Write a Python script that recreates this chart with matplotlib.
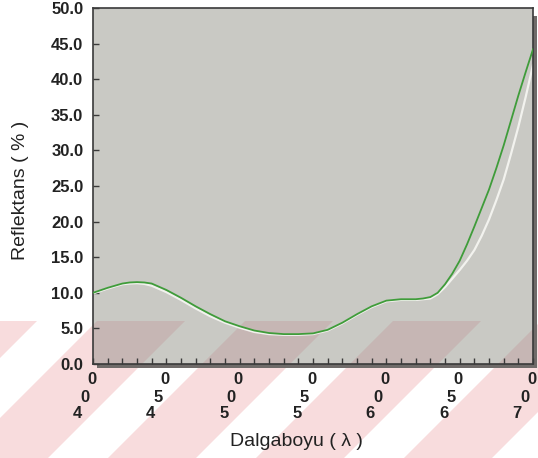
import matplotlib
matplotlib.use('Agg')
import matplotlib.pyplot as plt
from matplotlib.patches import Polygon, Rectangle

# ---- data ----
wavelength = [400, 410, 420, 425, 430, 435, 440, 450, 460, 470, 480, 490, 500,
              510, 520, 530, 540, 550, 560, 570, 580, 590, 600,
              610, 620, 625, 630, 635, 640, 645, 650, 655, 660, 665, 670,
              675, 680, 685, 690, 695, 700]
green_refl = [10.0, 10.7, 11.3, 11.45, 11.5, 11.45, 11.3, 10.4, 9.3, 8.1, 7.0, 6.0, 5.3,
              4.7, 4.35, 4.2, 4.2, 4.3, 4.8, 5.8, 7.0, 8.1, 8.9,
              9.1, 9.1, 9.2, 9.4, 10.0, 11.2, 12.7, 14.5, 16.8, 19.3, 21.9, 24.5,
              27.5, 30.7, 34.2, 37.7, 41.0, 44.2]
white_refl = [9.9, 10.6, 11.2, 11.3, 11.35, 11.25, 11.0, 10.1, 9.0, 7.8, 6.7, 5.8, 5.1,
              4.5, 4.2, 4.1, 4.1, 4.2, 4.7, 5.7, 6.9, 8.0, 8.8,
              9.0, 9.0, 9.1, 9.2, 9.8, 10.8, 12.0, 13.2, 14.5, 16.0, 18.0, 20.3,
              23.0, 25.9, 29.5, 33.3, 37.5, 42.0]
x_label_ticks = [400, 450, 500, 550, 600, 650, 700]
x_minor_ticks = list(range(400, 701, 10))
y_ticks = [0, 5, 10, 15, 20, 25, 30, 35, 40, 45, 50]

W, H = 538, 458
fig = plt.figure(figsize=(W / 100, H / 100), dpi=100)
fig.patch.set_facecolor('white')

ax_l, ax_b, ax_w, ax_h = 93, 364, 440, 356   # pixels: left, bottom(from top), width, height
ax = fig.add_axes([ax_l / W, (H - ax_b) / H, ax_w / W, ax_h / H])
ax.set_facecolor('#c9c9c4')

# ---- decorative watermark stripes (figure pixel space) ----
band_top = 137          # px from bottom
period, pink_w = 148, 88
stripes = []
for k in range(-3, 5):
    c = 152 + k * period
    pts = [(c - pink_w / 2, 0), (c + pink_w / 2, 0),
           (c + pink_w / 2 + band_top, band_top), (c - pink_w / 2 + band_top, band_top)]
    stripes.append([(x / W, y / H) for x, y in pts])
for pts in stripes:
    fig.patches.append(Polygon(pts, closed=True, transform=fig.transFigure,
                               facecolor='#f8dcdd', edgecolor='none', zorder=-3))
    ax.add_patch(Polygon(pts, closed=True, transform=fig.transFigure,
                         facecolor='#c6b6b4', edgecolor='none', zorder=0.5))

# frame shadow
fig.patches.append(Rectangle(((ax_l + 4) / W, (H - ax_b - 4) / H), ax_w / W, (ax_h - 4) / H,
                             transform=fig.transFigure, facecolor='#6f6b69',
                             edgecolor='none', zorder=-1))

# ---- curves ----
ax.plot(wavelength, white_refl, color='#f2f2ee', lw=1.6, zorder=2)
ax.plot(wavelength, green_refl, color='#3f9c3a', lw=1.3, zorder=3)

ax.set_xlim(400, 700)
ax.set_ylim(0, 50)

for s in ax.spines.values():
    s.set_color('#3a3a3a')
    s.set_linewidth(1.2)

ax.set_yticks(y_ticks)
ax.set_yticklabels([f'{v:.1f}' for v in y_ticks])
ax.set_xticks(x_minor_ticks)
ax.set_xticklabels([])
ax.tick_params(axis='both', direction='in', length=4, width=1, color='#3a3a3a')
ax.tick_params(axis='y', pad=7)
for lab in ax.get_yticklabels():
    lab.set_fontfamily(['Liberation Sans', 'DejaVu Sans'])
    lab.set_fontweight('bold')
    lab.set_fontsize(12)
    lab.set_color('#222222')

# stacked-digit x tick labels
offs_px = [(-16, -49), (-8.5, -33), (-1.5, -16)]   # first, second, third digit
for w in x_label_ticks:
    s = str(w)
    for ch, (dx, dy) in zip(s, offs_px):
        ax.annotate(ch, xy=(w, 0), xycoords=('data', 'axes fraction'),
                    xytext=(dx * 0.72, dy * 0.72), textcoords='offset points',
                    ha='center', va='center', fontsize=12, fontweight='bold',
                    family=['Liberation Sans', 'DejaVu Sans'], color='#222222',
                    annotation_clip=False)

fig.text(296 / W, (H - 442) / H, 'Dalgaboyu ( λ )', ha='center', va='center',
         fontsize=14, family=['Liberation Sans', 'DejaVu Sans'], color='#222222')
fig.text(21 / W, (H - 190) / H, 'Reflektans ( % )', ha='center', va='center',
         rotation=90, fontsize=14, family=['Liberation Sans', 'DejaVu Sans'],
         color='#222222')

fig.savefig('out.png', dpi=100)
